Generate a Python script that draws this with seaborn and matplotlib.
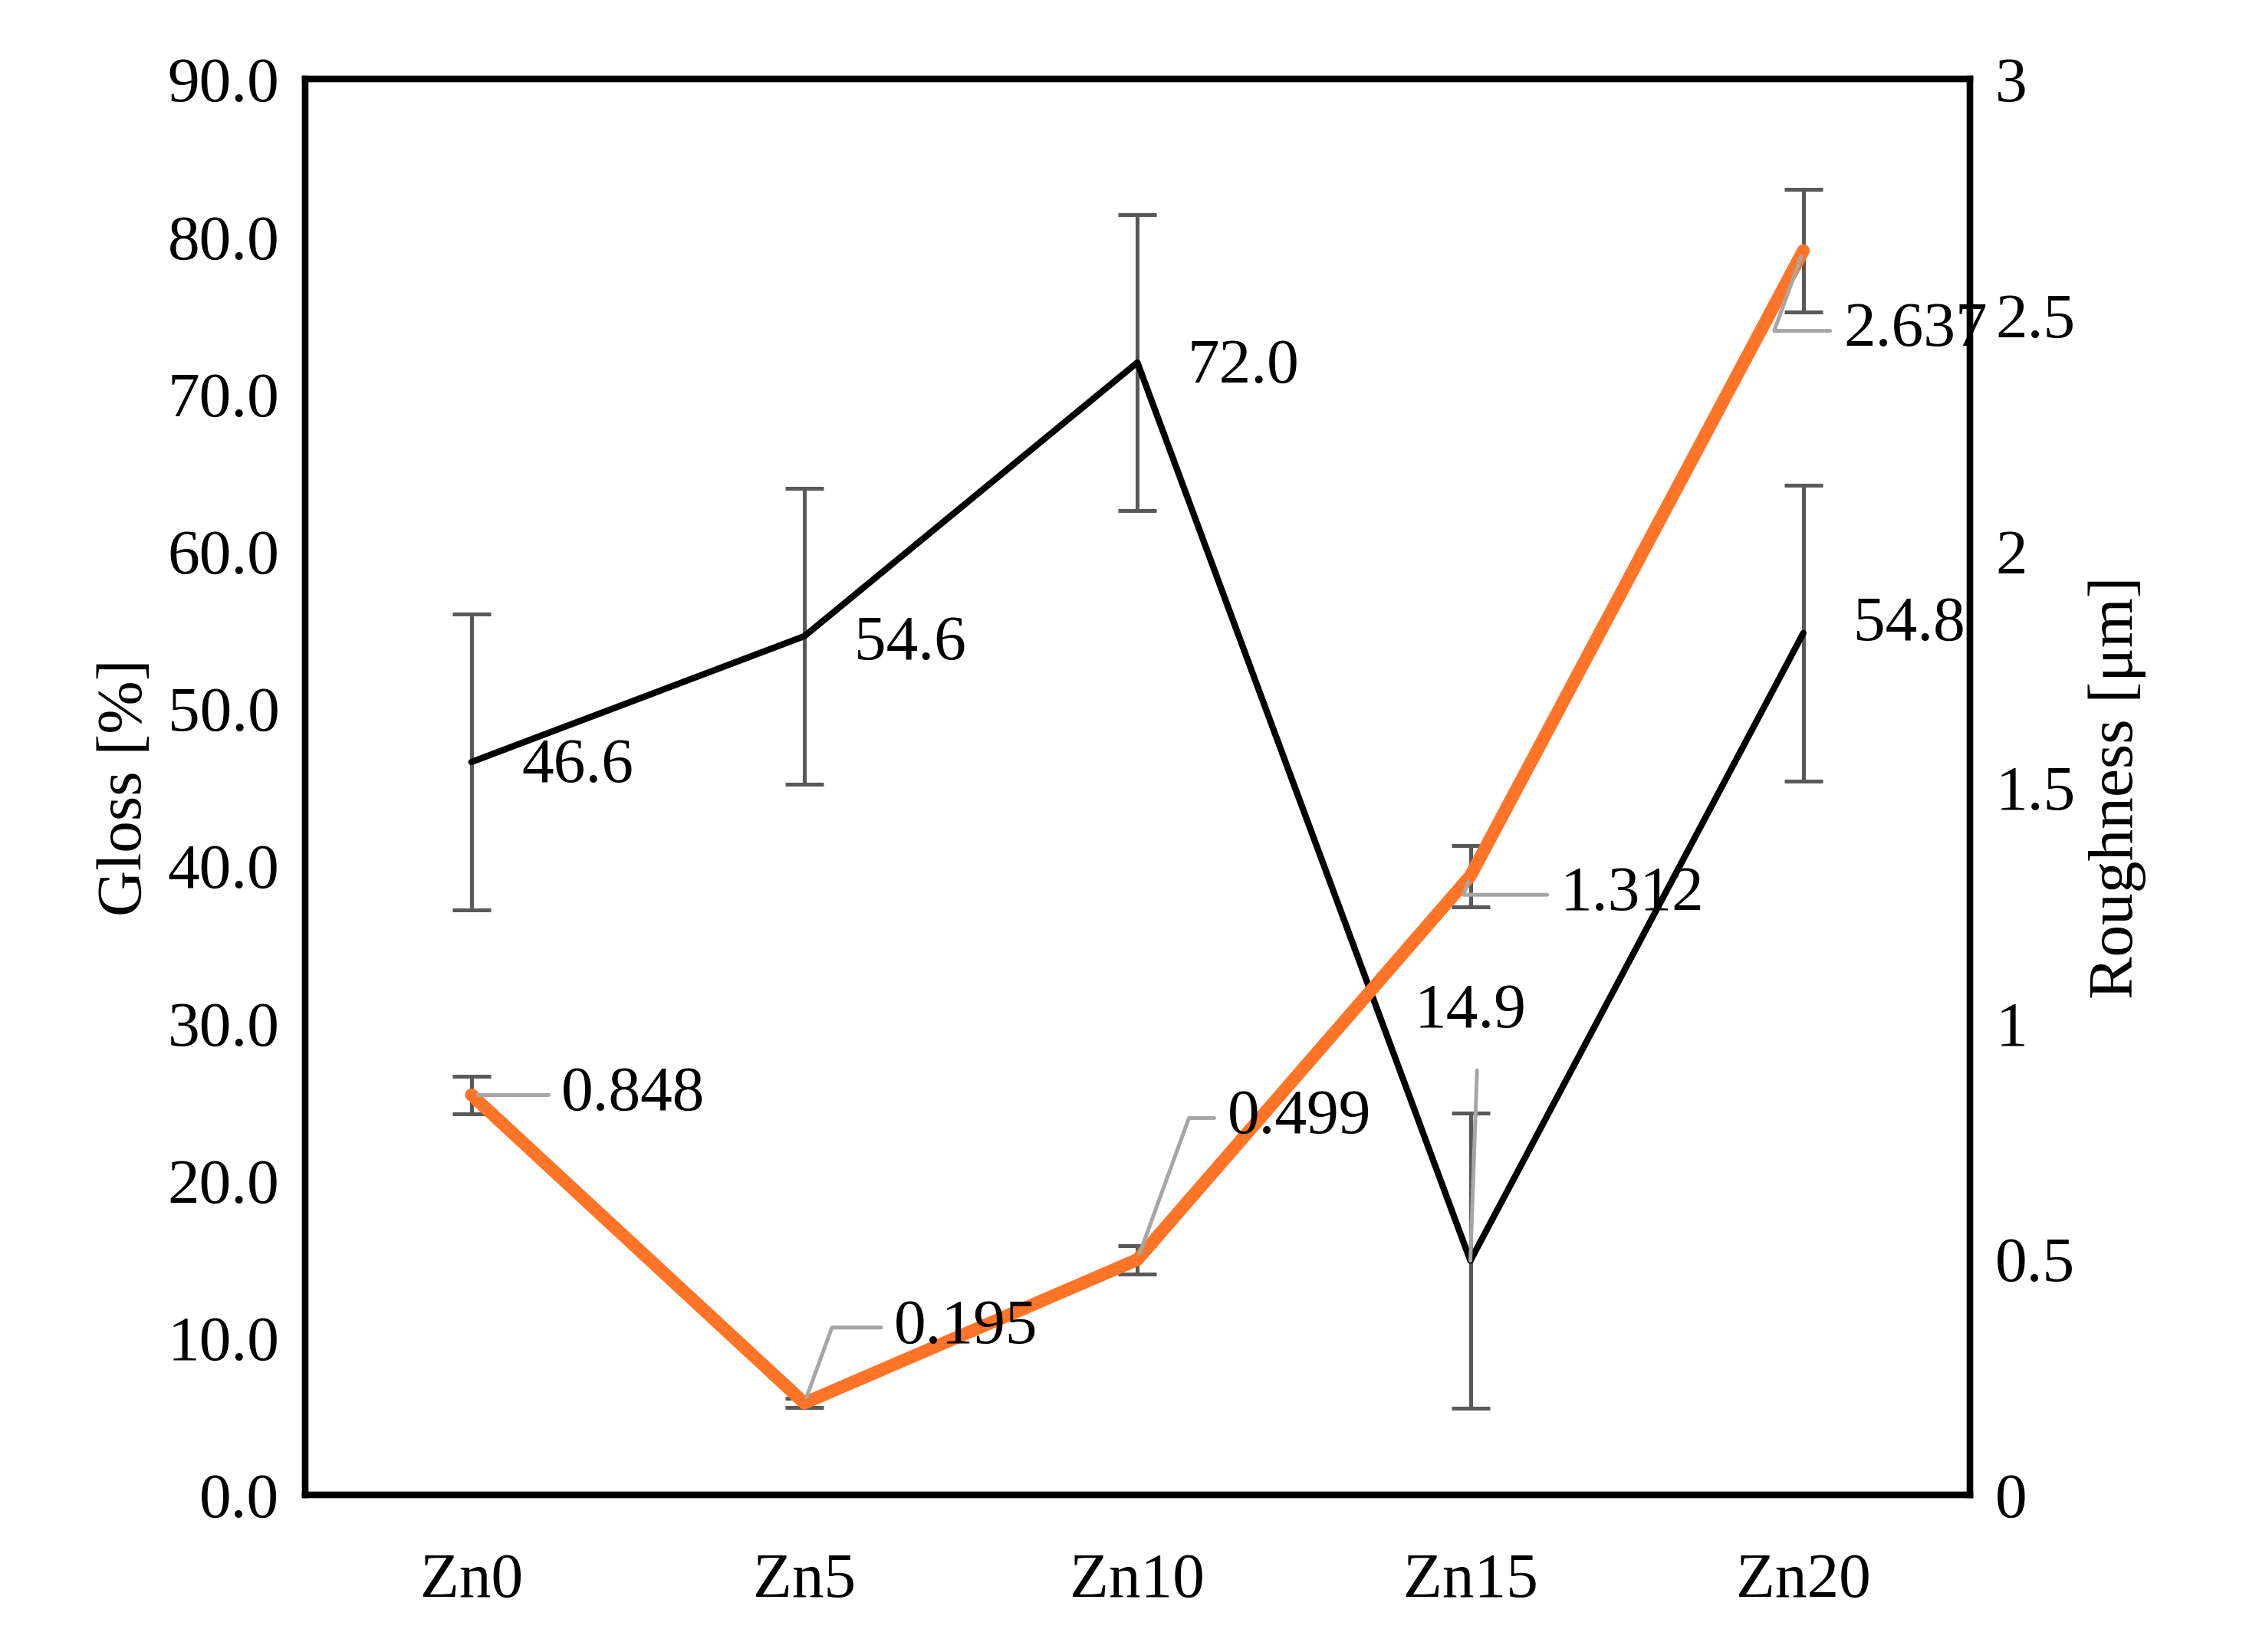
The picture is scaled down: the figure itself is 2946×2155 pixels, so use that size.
import matplotlib
matplotlib.use("Agg")
import matplotlib.pyplot as plt
import seaborn as sns
import pandas as pd

categories = ["Zn0", "Zn5", "Zn10", "Zn15", "Zn20"]
gloss = [46.6, 54.6, 72.0, 14.9, 54.8]
gloss_err = [9.4, 9.4, 9.4, 9.4, 9.4]
rough = [0.848, 0.195, 0.499, 1.312, 2.637]
rough_err = [0.04, 0.01, 0.03, 0.065, 0.13]

sns.set_style("white")
plt.rcParams['font.family'] = ['Liberation Serif', 'DejaVu Serif']
plt.rcParams['text.color'] = 'black'
plt.rcParams['axes.labelcolor'] = 'black'
plt.rcParams['xtick.color'] = 'black'
plt.rcParams['ytick.color'] = 'black'
FS = 20

x = list(range(len(categories)))
df = pd.DataFrame({"x": x, "gloss": gloss, "rough": rough})

fig = plt.figure(figsize=(2946/300, 2155/300), dpi=300)
ax = fig.add_axes([0.135, 0.095, 0.737, 0.857])
ax2 = ax.twinx()

ax.errorbar(x, gloss, yerr=gloss_err, fmt='none', ecolor='#595959', elinewidth=1.2, capsize=6, capthick=1.2, zorder=2)
sns.lineplot(data=df, x="x", y="gloss", ax=ax, color='black', linewidth=2, zorder=3)
ax2.errorbar(x, rough, yerr=rough_err, fmt='none', ecolor='#595959', elinewidth=1.2, capsize=6, capthick=1.2, zorder=2)
sns.lineplot(data=df, x="x", y="rough", ax=ax2, color='#FF7427', linewidth=4, zorder=3)

ax.set_xlim(-0.5, 4.5)
ax.set_ylim(0, 90)
ax2.set_ylim(0, 3)
ax.set_yticks(range(0, 91, 10))
ax.set_yticklabels([f"{v:.1f}" for v in range(0, 91, 10)], fontsize=FS)
ax2.set_yticks([0, 0.5, 1, 1.5, 2, 2.5, 3])
ax2.set_yticklabels(["0", "0.5", "1", "1.5", "2", "2.5", "3"], fontsize=FS)
ax.set_xticks(x)
ax.set_xticklabels(categories, fontsize=FS)
ax.tick_params(axis='x', pad=18, length=0)
ax.tick_params(axis='y', length=0, pad=8)
ax2.tick_params(axis='y', length=0, pad=8)
ax.set_xlabel("")
ax.set_ylabel("Gloss [%]", fontsize=FS)
ax2.set_ylabel("Roughness [μm]", fontsize=FS)
for a in (ax, ax2):
    for s in a.spines.values():
        s.set_color('black'); s.set_linewidth(2)

# gloss labels
goff = [(0.15, -0.3), (0.15, -0.5), (0.15, -0.3), (0.0, 15.8), (0.15, 0.5)]
for i, (dx, dy) in enumerate(goff):
    ax.text(x[i] + dx, gloss[i] + dy, f"{gloss[i]:.1f}", fontsize=FS, va='center',
            ha='left' if dx else 'center', zorder=5)
ax.plot([x[3], x[3] + 0.02], [gloss[3], 27], color='#A6A6A6', lw=1.2, zorder=4)

# roughness labels with leader lines
roff = [(0.23, 0.0), (0.23, 0.16), (0.23, 0.3), (0.23, -0.04), (0.0, -0.16)]
for i, (dx, dy) in enumerate(roff):
    tx, ty = x[i] + dx + 0.02, rough[i] + dy
    if i == 4:
        tx = x[i] + 0.1; ty = rough[i] - 0.17
    ax2.annotate(f"{rough[i]:.3f}", xy=(x[i], rough[i]), xytext=(tx + 0.02, ty),
                 fontsize=FS, va='center', ha='left', zorder=5,
                 arrowprops=dict(arrowstyle='-', color='#A6A6A6', lw=1.2,
                                 connectionstyle="angle,angleA=0,angleB=70,rad=0"))

fig.savefig("out.png", dpi=300)
